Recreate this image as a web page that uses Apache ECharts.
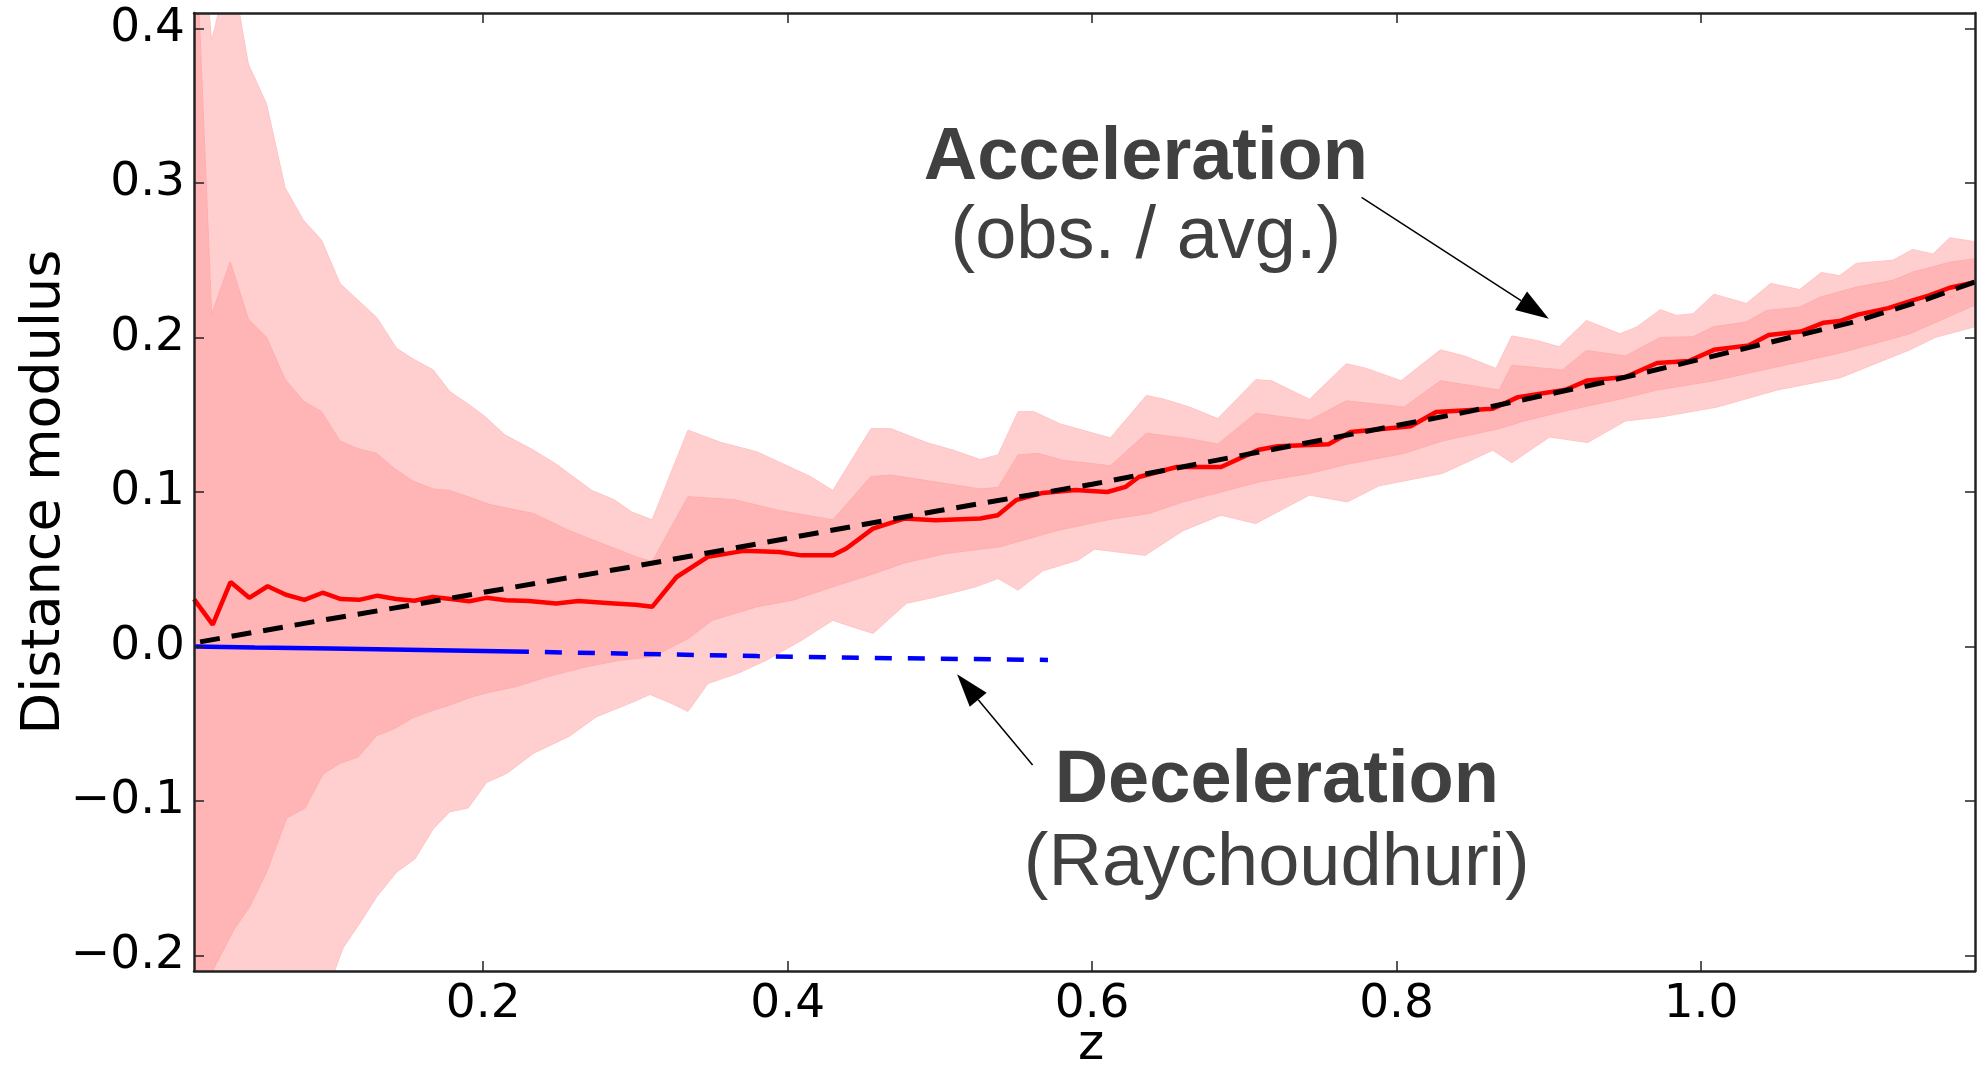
<!DOCTYPE html>
<html>
<head>
<meta charset="utf-8">
<script src="https://cdn.jsdelivr.net/npm/echarts@6/dist/echarts.min.js"></script>
<style>
html,body{margin:0;padding:0;background:#fff;}
#main{width:1986px;height:1066px;}
</style>
</head>
<body>
<div id="main"></div>
<script>
// ---------- data (z, distance modulus) ----------
const xTicks = [0.2, 0.4, 0.6, 0.8, 1.0];
const yTicks = [-0.2, -0.1, 0.0, 0.1, 0.2, 0.3, 0.4];

const outerUpper = [
[0.01,0.52],[0.0216,0.392],[0.034,0.443],[0.0457,0.377],[0.0577,0.351],[0.0698,0.297],[0.0818,0.276],[0.0938,0.263],[0.1059,0.235],[0.1179,0.224],[0.13,0.213],[0.1431,0.193],[0.154,0.186],[0.1672,0.179],[0.178,0.165],[0.19,0.157],[0.201,0.149],[0.2142,0.137],[0.2332,0.127],[0.248,0.118],[0.2714,0.101],[0.286,0.095],[0.2977,0.087],[0.311,0.082],[0.3345,0.140],[0.3564,0.132],[0.3798,0.126],[0.3974,0.118],[0.415,0.110],[0.4297,0.101],[0.4547,0.141],[0.4679,0.141],[0.4913,0.132],[0.5089,0.127],[0.5265,0.121],[0.5382,0.124],[0.5514,0.152],[0.5617,0.152],[0.5792,0.144],[0.612,0.135],[0.6357,0.1625],[0.6474,0.160],[0.6639,0.155],[0.6826,0.1475],[0.7075,0.1727],[0.7179,0.172],[0.7428,0.160],[0.7669,0.183],[0.7802,0.180],[0.803,0.172],[0.8288,0.192],[0.8446,0.188],[0.8653,0.180],[0.8757,0.201],[0.8923,0.198],[0.9068,0.194],[0.9247,0.211],[0.9467,0.2024],[0.9576,0.2067],[0.9733,0.218],[0.9838,0.2143],[0.9948,0.2154],[1.0085,0.228],[1.0298,0.222],[1.0459,0.235],[1.0648,0.231],[1.079,0.242],[1.0911,0.240],[1.102,0.248],[1.1261,0.250],[1.139,0.257],[1.1524,0.254],[1.1634,0.2645],[1.18,0.262]
];
const outerLower = [
[0.01,-0.42],[0.06,-0.31],[0.1015,-0.212],[0.108,-0.195],[0.119,-0.179],[0.13,-0.162],[0.1431,-0.146],[0.1551,-0.1375],[0.1672,-0.118],[0.178,-0.107],[0.1901,-0.1045],[0.2022,-0.088],[0.2157,-0.082],[0.2332,-0.069],[0.2567,-0.058],[0.2743,-0.0455],[0.3007,-0.035],[0.3095,-0.031],[0.3241,-0.037],[0.3345,-0.042],[0.3476,-0.024],[0.3681,-0.017],[0.3857,-0.009],[0.4092,0.004],[0.4297,0.017],[0.4385,0.014],[0.4561,0.0085],[0.4781,0.028],[0.4971,0.032],[0.5235,0.0386],[0.5382,0.044],[0.5514,0.0365],[0.5676,0.049],[0.591,0.056],[0.6016,0.063],[0.6349,0.059],[0.6598,0.075],[0.6847,0.085],[0.7075,0.0796],[0.7428,0.098],[0.7677,0.0936],[0.7885,0.104],[0.83,0.112],[0.8632,0.127],[0.8757,0.119],[0.9006,0.1356],[0.9255,0.132],[0.9504,0.146],[0.9733,0.1485],[1.0107,0.155],[1.05,0.166],[1.0916,0.174],[1.1372,0.192],[1.1538,0.200],[1.18,0.207]
];
const innerUpper = [
[0.01,0.49],[0.0216,0.215],[0.0338,0.249],[0.0457,0.212],[0.0577,0.200],[0.0698,0.173],[0.0818,0.159],[0.0938,0.152],[0.1059,0.133],[0.1179,0.128],[0.13,0.125],[0.142,0.115],[0.154,0.107],[0.1672,0.102],[0.178,0.101],[0.19,0.097],[0.204,0.092],[0.2332,0.086],[0.2567,0.075],[0.2772,0.067],[0.3007,0.058],[0.311,0.055],[0.3345,0.097],[0.3652,0.095],[0.3946,0.088],[0.4297,0.082],[0.4547,0.110],[0.4679,0.111],[0.497,0.1065],[0.5265,0.102],[0.5382,0.103],[0.5514,0.124],[0.5646,0.125],[0.5809,0.1205],[0.612,0.117],[0.6357,0.138],[0.6639,0.1345],[0.6826,0.131],[0.7075,0.151],[0.7428,0.1464],[0.7669,0.159],[0.8051,0.155],[0.8288,0.172],[0.8674,0.166],[0.8757,0.182],[0.9089,0.179],[0.9247,0.1916],[0.9504,0.188],[0.9733,0.200],[0.9948,0.2005],[1.0085,0.207],[1.0298,0.210],[1.043,0.2175],[1.0648,0.2196],[1.078,0.226],[1.102,0.2326],[1.1261,0.237],[1.1392,0.2423],[1.1634,0.2487],[1.18,0.251]
];
const innerLower = [
[0.01,-0.235],[0.0227,-0.209],[0.0358,-0.184],[0.0468,-0.168],[0.0577,-0.146],[0.0709,-0.111],[0.0829,-0.1045],[0.0949,-0.0825],[0.1059,-0.0756],[0.1179,-0.0715],[0.13,-0.0577],[0.142,-0.053],[0.154,-0.046],[0.168,-0.041],[0.178,-0.038],[0.1913,-0.033],[0.2022,-0.030],[0.2215,-0.026],[0.242,-0.0196],[0.2684,-0.013],[0.289,-0.009],[0.311,-0.0067],[0.3345,0.005],[0.3505,0.017],[0.3798,0.0257],[0.4034,0.030],[0.4297,0.0386],[0.4561,0.047],[0.4766,0.054],[0.503,0.060],[0.5265,0.063],[0.5394,0.0645],[0.5768,0.075],[0.61,0.082],[0.6369,0.086],[0.6598,0.0936],[0.6847,0.100],[0.7096,0.1065],[0.7428,0.112],[0.7677,0.118],[0.8051,0.125],[0.83,0.133],[0.8674,0.141],[0.884,0.146],[0.913,0.153],[0.9463,0.160],[0.9712,0.166],[1.0085,0.172],[1.05,0.181],[1.0916,0.190],[1.1372,0.2024],[1.18,0.221]
];
const observed = [
[0.01,0.0307],[0.0223,0.0142],[0.034,0.0417],[0.0463,0.0315],[0.0584,0.039],[0.0704,0.0335],[0.0825,0.0302],[0.0945,0.0348],[0.1065,0.0307],[0.1186,0.0302],[0.1306,0.0329],[0.1427,0.0307],[0.1547,0.0296],[0.1667,0.0321],[0.1788,0.0307],[0.1908,0.0293],[0.2022,0.0315],[0.215,0.030],[0.23,0.0295],[0.248,0.0279],[0.2626,0.0294],[0.286,0.0279],[0.30,0.027],[0.311,0.0257],[0.327,0.045],[0.3476,0.058],[0.371,0.0619],[0.3946,0.0612],[0.409,0.059],[0.4297,0.059],[0.4385,0.0634],[0.456,0.0763],[0.4766,0.0828],[0.497,0.0817],[0.5265,0.0828],[0.538,0.085],[0.55,0.0947],[0.5676,0.0994],[0.589,0.1013],[0.61,0.100],[0.622,0.1033],[0.6307,0.1097],[0.6556,0.1162],[0.6847,0.1162],[0.7096,0.1274],[0.722,0.1296],[0.7553,0.1309],[0.7698,0.1388],[0.8093,0.1425],[0.826,0.1518],[0.8632,0.1539],[0.8798,0.1614],[0.911,0.1662],[0.9255,0.1722],[0.9504,0.1744],[0.9712,0.1835],[0.992,0.1848],[1.0085,0.192],[1.0316,0.1949],[1.0445,0.2016],[1.0657,0.2038],[1.0806,0.2096],[1.0911,0.2106],[1.103,0.2148],[1.123,0.219],[1.139,0.224],[1.150,0.2272],[1.1634,0.2322],[1.18,0.2358]
];
const average = [
[0.014,0.003],[0.1,0.018],[0.154,0.027],[0.2,0.035],[0.3,0.052],[0.35,0.061],[0.4,0.070],[0.5,0.088],[0.6,0.105],[0.7,0.124],[0.8,0.143],[0.847,0.152],[0.934,0.1705],[1.0,0.186],[1.1,0.210],[1.146,0.224],[1.18,0.236]
];
const raychSolid = [[0.01,0.0],[0.05,-0.0006],[0.1,-0.0013],[0.15,-0.0021],[0.2,-0.0029],[0.23,-0.0034]];
const raychDashed = [[0.23,-0.0034],[0.3,-0.0047],[0.38,-0.0062],[0.45,-0.0073],[0.571,-0.0087]];

// annotation anchors in data coordinates [text, z, value]
const accTitle = ['Acceleration', 0.6353, 0.3010];
const accSub = ['(obs. / avg.)', 0.6353, 0.2500];
const decTitle = ['Deceleration', 0.7213, -0.1025];
const decSub = ['(Raychoudhuri)', 0.7213, -0.1562];
const accArrow = [[0.777, 0.2906], [0.900, 0.2122]];
const decArrow = [[0.5609, -0.0767], [0.5113, -0.018]];

// ---------- chart ----------
const chart = echarts.init(document.getElementById('main'), null, {renderer: 'canvas'});
const fmt = v => (v < 0 ? '\u2212' : '') + Math.abs(v).toFixed(1);
const axisLineStyle = {color: '#222', width: 2.5};
const tickStyle = {color: '#222', width: 1.5};
const tickFont = {fontSize: 47, fontFamily: 'DejaVu Sans', color: '#000'};

function bandSeries(upper, lower, fill, stroke, z) {
  return {
    type: 'custom', clip: true, silent: true, z: z,
    data: [[upper[0][0], upper[0][1]]],
    renderItem: function (params, api) {
      if (params.dataIndex !== 0) return;
      const pts = upper.map(p => api.coord(p)).concat(lower.slice().reverse().map(p => api.coord(p)));
      return {type: 'polygon', shape: {points: pts}, style: {fill: fill, stroke: stroke, lineWidth: 1}};
    }
  };
}

function mkX(pos, showLabel) {
  return {
    type: 'value', min: 0.01, max: 1.18, position: pos, z: 10,
    axisLine: {show: true, onZero: false, lineStyle: axisLineStyle},
    axisTick: {show: true, inside: true, length: 10, customValues: xTicks, lineStyle: tickStyle},
    axisLabel: Object.assign({show: showLabel, customValues: xTicks, formatter: fmt, margin: 10}, tickFont),
    splitLine: {show: false}
  };
}
function mkY(pos, showLabel) {
  return {
    type: 'value', min: -0.21, max: 0.41, position: pos, z: 10,
    axisLine: {show: true, onZero: false, lineStyle: axisLineStyle},
    axisTick: {show: true, inside: true, length: 10, customValues: yTicks, lineStyle: tickStyle},
    axisLabel: Object.assign({show: showLabel, customValues: yTicks, formatter: fmt, margin: 9}, tickFont),
    splitLine: {show: false}
  };
}

const xMain = mkX('bottom', true);
xMain.name = 'z'; xMain.nameLocation = 'middle'; xMain.nameGap = 50; xMain.nameMoveOverlap = false;
xMain.nameTextStyle = {fontSize: 50, fontFamily: 'DejaVu Sans', color: '#000', padding: [0, 0, 0, 13]};
const yMain = mkY('left', true);
yMain.name = 'Distance modulus'; yMain.nameLocation = 'middle'; yMain.nameGap = 122; yMain.nameMoveOverlap = false;
yMain.nameTextStyle = {fontSize: 54, fontFamily: 'DejaVu Sans', color: '#000'};

chart.setOption({
  animation: false,
  backgroundColor: '#fff',
  grid: {left: 194, right: 11, top: 13, bottom: 95, show: false, containLabel: false, outerBoundsMode: 'none'},
  xAxis: [xMain, mkX('top', false)],
  yAxis: [yMain, mkY('right', false)],
  series: [
    bandSeries(outerUpper, outerLower, '#FFCFCF', '#FFC4C4', 1),
    bandSeries(innerUpper, innerLower, '#FFB5B5', '#FFAEAE', 2),
    {type: 'line', data: raychSolid, showSymbol: false, z: 3, silent: true,
     lineStyle: {color: '#0000FF', width: 4.5}},
    {type: 'line', data: raychDashed, showSymbol: false, z: 3, silent: true,
     lineStyle: {color: '#0000FF', width: 4.5, type: [17, 16], dashOffset: 17}},
    {type: 'line', data: observed, showSymbol: false, z: 4, silent: true,
     lineStyle: {color: '#FF0000', width: 4.5}},
    {type: 'line', data: average, showSymbol: false, z: 5, silent: true,
     lineStyle: {color: '#000000', width: 5, type: [20, 12]}}
  ]
});

// ---------- annotations ----------
const toPx = p => chart.convertToPixel({gridIndex: 0}, p);
function textEl(t, bold) {
  const p = toPx([t[1], t[2]]);
  const fs = 74;
  return {
    type: 'text', x: p[0], y: p[1] - 0.31 * fs, z: 20, silent: true,
    style: {text: t[0], fontSize: fs, fontWeight: bold ? 'bold' : 'normal',
            fontFamily: '"Liberation Sans", Arial, sans-serif', fill: '#404040',
            align: 'center', verticalAlign: 'middle'}
  };
}
function arrowEls(a) {
  const s = toPx(a[0]), t = toPx(a[1]);
  const dx = t[0] - s[0], dy = t[1] - s[1];
  const L = Math.sqrt(dx * dx + dy * dy);
  const ux = dx / L, uy = dy / L;
  const hl = 33, hw = 11;
  const bx = t[0] - ux * hl, by = t[1] - uy * hl;
  return [
    {type: 'line', z: 20, silent: true, shape: {x1: s[0], y1: s[1], x2: bx, y2: by},
     style: {stroke: '#000', lineWidth: 1.5}},
    {type: 'polygon', z: 20, silent: true,
     shape: {points: [[t[0], t[1]], [bx - uy * hw, by + ux * hw], [bx + uy * hw, by - ux * hw]]},
     style: {fill: '#000'}}
  ];
}
chart.setOption({
  graphic: [
    textEl(accTitle, true), textEl(accSub, false),
    textEl(decTitle, true), textEl(decSub, false)
  ].concat(arrowEls(accArrow), arrowEls(decArrow))
});
</script>
</body>
</html>
